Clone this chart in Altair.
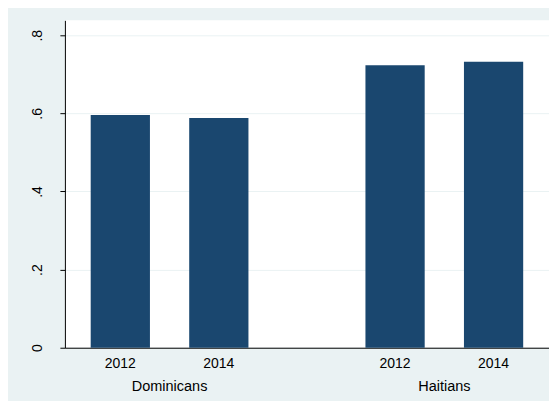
import altair as alt
import pandas as pd

groups = ["Dominicans", "Dominicans", "Haitians", "Haitians"]
years = ["2012", "2014", "2012", "2014"]
values = [0.596, 0.588, 0.723, 0.732]
y_ticks = [0, 0.2, 0.4, 0.6, 0.8]

df = pd.DataFrame({"group": groups, "year": years, "value": values})

FONT = "Liberation Sans"
BAR = "#1a476f"
BG = "#eaf2f3"

x_enc = alt.X(
    "group:N",
    sort=["Dominicans", "Haitians"],
    scale=alt.Scale(paddingInner=0.3, paddingOuter=0.031),
    axis=alt.Axis(
        title=None, ticks=False, tickSize=0, labelAngle=0,
        labelFont=FONT, labelFontSize=14.5, labelColor="#000000",
        labelBaseline="alphabetic", labelPadding=43,
        domainColor="#000000", domainWidth=1, grid=False,
    ),
)
xo_enc = alt.XOffset(
    "year:N",
    scale=alt.Scale(paddingInner=0.3986, paddingOuter=0.1755),
)

bars = alt.Chart(df).mark_bar(color=BAR).encode(
    x=x_enc,
    xOffset=xo_enc,
    y=alt.Y(
        "value:Q",
        scale=alt.Scale(domain=[0, 0.838], nice=False, zero=True),
        axis=alt.Axis(
            title=None, values=y_ticks,
            labelExpr="datum.value == 0 ? '0' : replace(format(datum.value, '.1f'), '0.', '.')",
            labelAngle=-90, labelAlign="center", labelBaseline="bottom",
            labelFont=FONT, labelFontSize=14, labelColor="#000000",
            labelPadding=15, tickSize=5, tickColor="#000000",
            domainColor="#000000", gridColor=BG, gridWidth=1,
        ),
    ),
)

year_text = alt.Chart(df).mark_text(
    font=FONT, fontSize=14, color="#000000", baseline="alphabetic", align="center"
).encode(
    x=x_enc,
    xOffset=xo_enc,
    y=alt.value(348),
    text="year:N",
)

chart = alt.layer(bars, year_text).properties(
    width=485,
    height=328,
    background=BG,
    padding={"left": 57, "top": 12, "right": 0, "bottom": 53},
    autosize=alt.AutoSizeParams(type="none"),
).configure_view(fill="#ffffff", stroke=None)

chart.save("out.html", embed_options={"renderer": "svg", "actions": False})
